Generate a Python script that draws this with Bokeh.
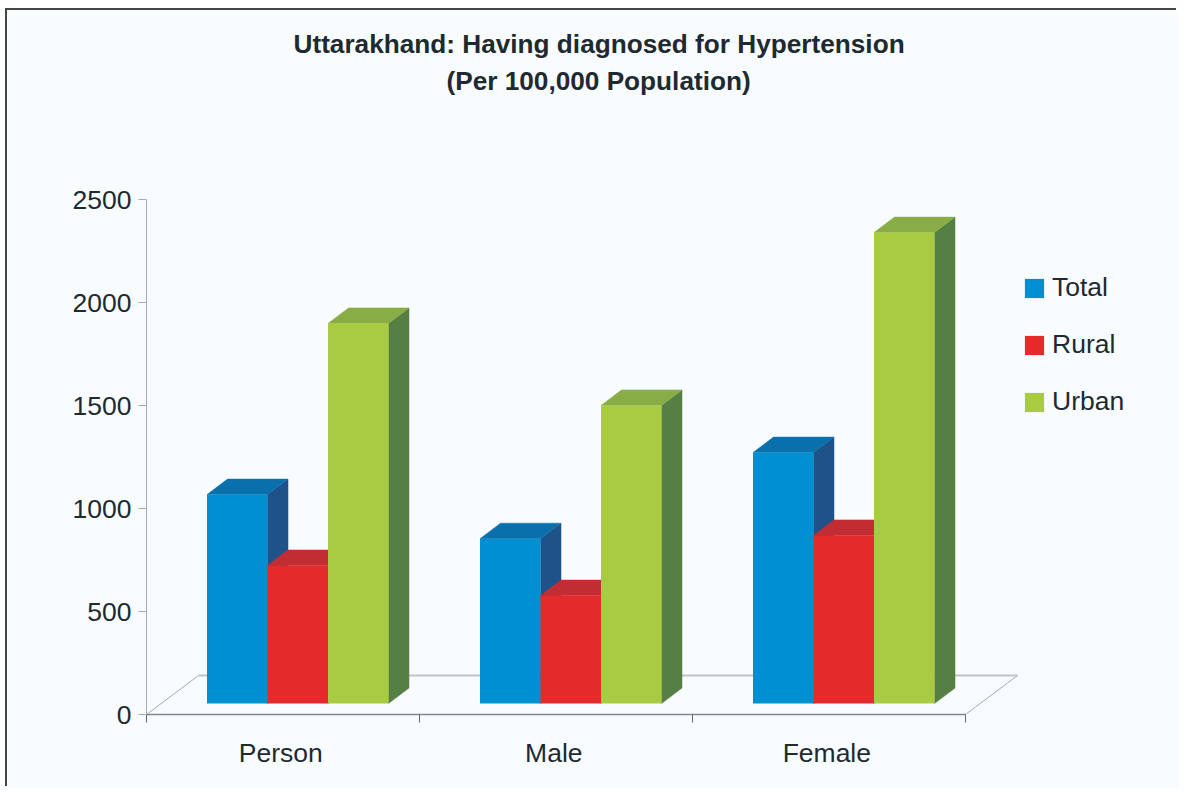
from bokeh.plotting import figure
from bokeh.models import Range1d, FixedTicker, Legend, LegendItem, ColumnDataSource, Title
from bokeh.embed import file_html
from bokeh.resources import INLINE
import numpy as np

categories = ["Person", "Male", "Female"]
total = [1014, 800, 1218]
rural = [670, 524, 816]
urban = [1845, 1447, 2286]
y_ticks = [0, 500, 1000, 1500, 2000, 2500]
series_names = ["Total", "Rural", "Urban"]
title_lines = ["Uttarakhand: Having diagnosed for Hypertension", "(Per 100,000 Population)"]
title_offsets = [147, 300]
title_standoffs = [5, 4]

FONT = "Liberation Sans"
BG = "#f8fcff"
INK = "#1e2a30"
PX_X = 273.0       # pixels per category
PX_Y = 0.206       # pixels per value unit
DEPTH_X = 20.5 / PX_X
DEPTH_Y = 15.5 / PX_Y
BASE = 11 / PX_Y
FLOOR_X = 52 / PX_X
FLOOR_Y = 39 / PX_Y
BAR_W = 60.5 / PX_X
GROUP_START = 60.5 / PX_X
LABEL_POS = 0.492

p = figure(width=1171, height=778, output_backend="svg", toolbar_location=None,
           x_range=Range1d(0, 1032 / PX_X), y_range=Range1d(0, 617 / PX_Y),
           min_border_left=139, min_border_right=0, min_border_top=87, min_border_bottom=74,
           background_fill_color=BG, border_fill_color=BG, outline_line_color=None,
           margin=(10, 0, 0, 7), styles={"box-shadow": "-2px -2px 0 #444444"})
p.grid.visible = False

for line, off, so in reversed(list(zip(title_lines, title_offsets, title_standoffs))):
    p.add_layout(Title(text=line, align="left", offset=off, text_font=FONT, text_font_style="bold",
                       text_font_size="26.2px", text_color=INK, standoff=so), "above")

p.yaxis.bounds = (0, 2500)
p.yaxis.ticker = FixedTicker(ticks=y_ticks)
p.yaxis.axis_line_color = "#a8acae"
p.yaxis.major_tick_line_color = "#a8acae"
p.yaxis.major_tick_in = 0
p.yaxis.major_tick_out = 8
p.yaxis.major_label_standoff = 7
p.yaxis.minor_tick_line_color = None
p.yaxis.major_label_text_font = FONT
p.yaxis.major_label_text_font_size = "26.5px"
p.yaxis.major_label_text_color = INK

p.xaxis.bounds = (0, 3)
p.xaxis.ticker = FixedTicker(ticks=[i + LABEL_POS for i in range(3)], minor_ticks=[0, 1, 2, 3])
p.xaxis.major_label_overrides = {i + LABEL_POS: c for i, c in enumerate(categories)}
p.xaxis.axis_line_color = "#80868a"
p.xaxis.axis_line_width = 1.5
p.xaxis.major_tick_line_color = None
p.xaxis.major_tick_in = 0
p.xaxis.major_tick_out = 8
p.xaxis.minor_tick_line_color = "#60666a"
p.xaxis.minor_tick_in = 0
p.xaxis.minor_tick_out = 8
p.xaxis.major_label_standoff = 15
p.xaxis.major_label_text_font = FONT
p.xaxis.major_label_text_font_size = "26.5px"
p.xaxis.major_label_text_color = INK

# floor of the 3D box
p.line([FLOOR_X, 3 + FLOOR_X], [FLOOR_Y, FLOOR_Y], line_color="#c0c4c6", line_width=2)
p.line([0, FLOOR_X], [0, FLOOR_Y], line_color="#a8acae", line_width=1)
p.line([3, 3 + FLOOR_X], [0, FLOOR_Y], line_color="#a8acae", line_width=1)

styles = [("#008fd0", "#0a70ab", "#1f5289"),
          ("#e52a2c", "#c22d33", "#a02a2e"),
          ("#a9cb42", "#88ad47", "#567f43")]
legend_items = []
for k, (name, vals, (front, top_c, side_c)) in enumerate(zip(series_names, [total, rural, urban], styles)):
    vals = np.array(vals, dtype=float)
    left = np.arange(3) + GROUP_START + k * BAR_W
    right = left + BAR_W
    tops = BASE + vals
    side_xs = [[r, r + DEPTH_X, r + DEPTH_X, r] for r in right]
    side_ys = [[BASE, BASE + DEPTH_Y, t + DEPTH_Y, t] for t in tops]
    top_xs = [[l, l + DEPTH_X, r + DEPTH_X, r] for l, r in zip(left, right)]
    top_ys = [[t, t + DEPTH_Y, t + DEPTH_Y, t] for t in tops]
    p.patches(side_xs, side_ys, fill_color=side_c, line_color=side_c, line_width=0.5)
    p.patches(top_xs, top_ys, fill_color=top_c, line_color=top_c, line_width=0.5)
    src = ColumnDataSource(dict(x=(left + right) / 2, b=[BASE] * 3, t=tops))
    r = p.vbar(x="x", bottom="b", top="t", width=BAR_W, source=src,
               fill_color=front, line_color=None)
    legend_items.append(LegendItem(label=name, renderers=[r]))

legend = Legend(items=legend_items, location=(876, 297), orientation="vertical",
                glyph_width=24, glyph_height=24, label_height=19, spacing=26,
                label_standoff=6, padding=0, margin=0,
                background_fill_alpha=0, border_line_color=None,
                label_text_font=FONT, label_text_font_size="26.5px", label_text_color=INK)
p.add_layout(legend)

open("out.html", "w").write(file_html(p, INLINE))
